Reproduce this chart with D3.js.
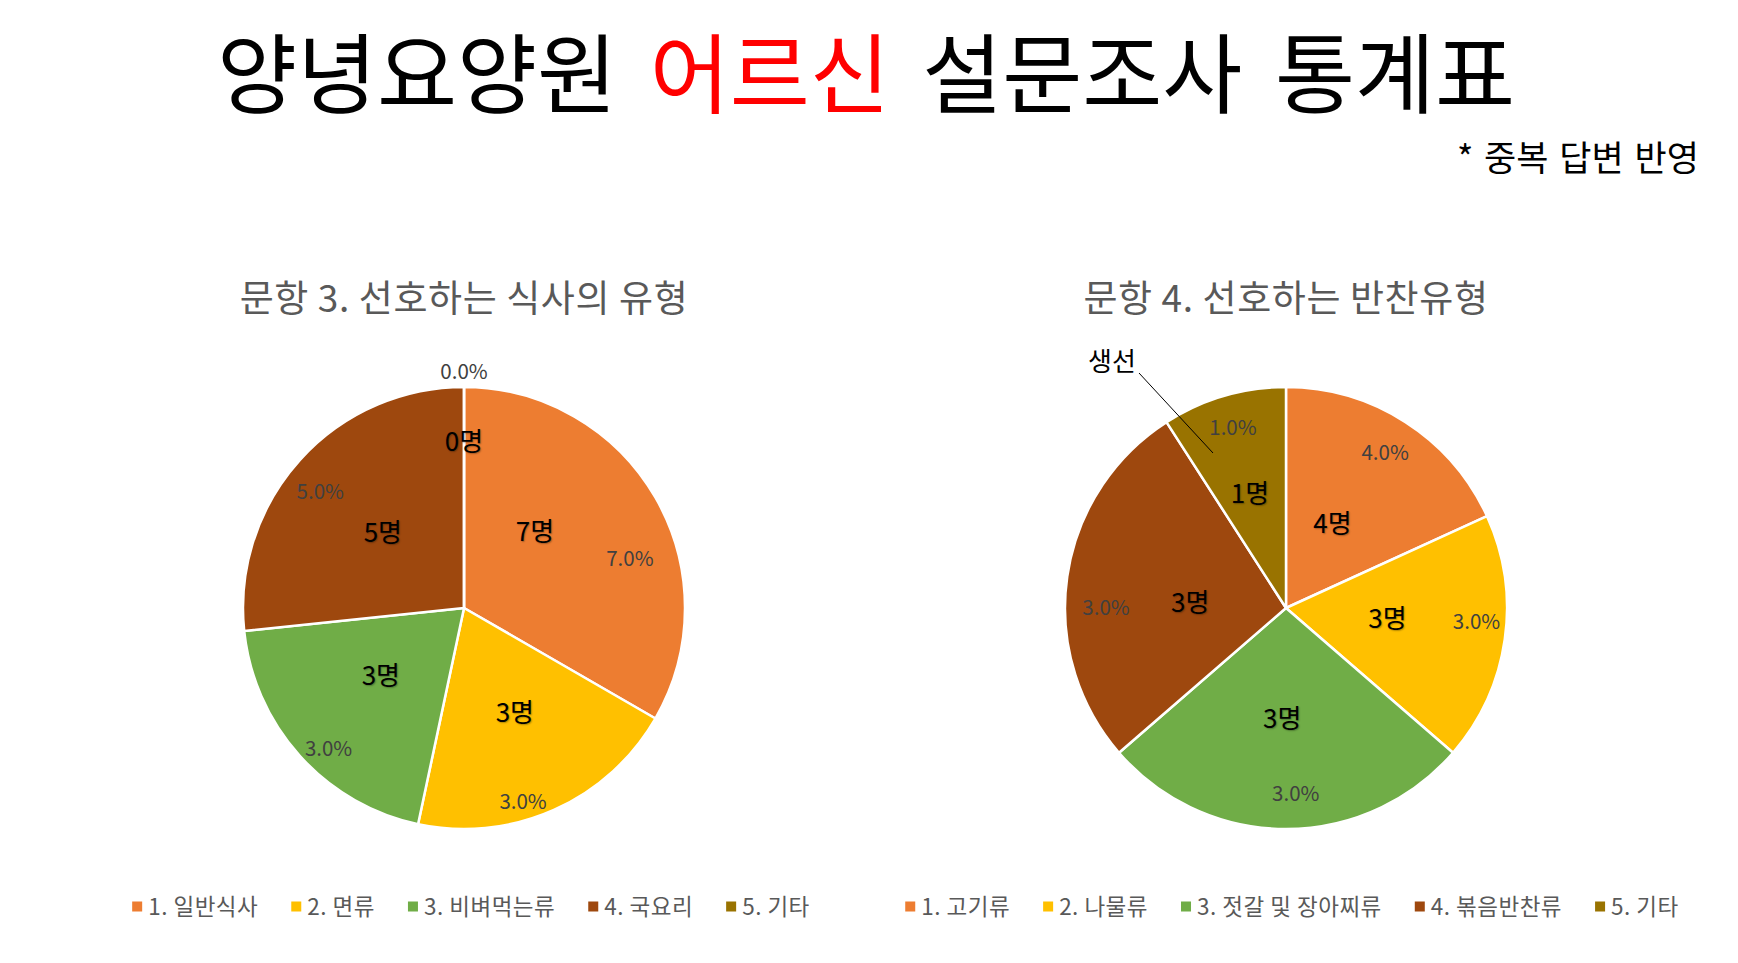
<!DOCTYPE html>
<html><head><meta charset="utf-8">
<script src="https://cdn.jsdelivr.net/npm/d3@7"></script>
<style>
html,body{margin:0;padding:0;background:#fff;}
svg{display:block;font-family:"Noto Sans CJK KR","Noto Sans",sans-serif;}
.cnt{text-shadow:1px 1px 1.5px rgba(0,0,0,0.3);}
</style></head>
<body>
<svg id="c" width="1738" height="963"></svg>
<script>
// ---- data ----
const titleParts = [["양녕요양원 ", "#000"], ["어르신", "#ff0000"], [" 설문조사 통계표", "#000"]];
const noteText = "* 중복 답변 반영";

const chart1Title = "문항 3. 선호하는 식사의 유형";
const chart1Categories = ["1. 일반식사", "2. 면류", "3. 비벼먹는류", "4. 국요리", "5. 기타"];
const chart1Slices = [5, 3, 3, 4, 0];          // slice sizes as drawn
const chart1Counts = ["7명", "3명", "3명", "5명", "0명"];
const chart1Percents = ["7.0%", "3.0%", "3.0%", "5.0%", "0.0%"];

const chart2Title = "문항 4. 선호하는 반찬유형";
const chart2Categories = ["1. 고기류", "2. 나물류", "3. 젓갈 및 장아찌류", "4. 볶음반찬류", "5. 기타"];
const chart2Slices = [2, 2, 3, 3, 1];
const chart2Counts = ["4명", "3명", "3명", "3명", "1명"];
const chart2Percents = ["4.0%", "3.0%", "3.0%", "3.0%", "1.0%"];
const chart2Callout = "생선";

const colors = ["#ED7D31", "#FFC000", "#70AD47", "#9E480E", "#997300"];

// ---- layout ----
const W = 1738, H = 963;
const svg = d3.select("#c");
const R = 221;

// title
const t = svg.append("text").attr("x", W / 2 - 3).attr("y", 107).attr("text-anchor", "middle")
  .attr("font-size", 87).attr("word-spacing", "13px");
titleParts.forEach(p => t.append("tspan").attr("fill", p[1]).text(p[0]));

svg.append("text").attr("x", 1699).attr("y", 171).attr("text-anchor", "end")
  .attr("font-size", 35).attr("word-spacing", "3px").attr("fill", "#000").text(noteText);

// label layout (degrees from 12 o'clock, px radius)
const layout1 = {
  pct: {0: [73.5, 173], 1: [163, 202], 2: [224, 195], 3: [309, 185], 4: [0, 236]},
  cnt: {0: [43, 104], 1: [154, 116], 2: [231, 107], 3: [313, 111], 4: [0, 166]}
};
const layout2 = {
  pct: {0: [32.6, 184], 1: [94, 191], 2: [177, 186], 3: [270, 180], 4: [343.6, 188]},
  cnt: {0: [29, 96], 1: [96, 102], 2: [182, 111], 3: [273, 96], 4: [342.5, 120]}
};

function drawPie(cx, cy, title, cats, slices, counts, pcts, lay, legendShift) {
  const g = svg.append("g").attr("transform", `translate(${cx},${cy})`);
  svg.append("text").attr("x", cx).attr("y", 312).attr("text-anchor", "middle")
    .attr("font-size", 37).attr("letter-spacing", "0.6px").attr("fill", "#595959").text(title);

  const pie = d3.pie().sort(null).value(d => d)(slices);
  const arc = d3.arc().innerRadius(0).outerRadius(R);
  g.selectAll("path.s").data(pie).join("path").attr("class", "s")
    .attr("d", arc).attr("fill", (d, i) => colors[i])
    .attr("stroke", "#fff").attr("stroke-width", 2.5).attr("stroke-linejoin", "round");

  const pos = (deg, r) => {
    const a = deg * Math.PI / 180;
    return [Math.sin(a) * r, -Math.cos(a) * r];
  };
  const mid = d => ((d.startAngle + d.endAngle) / 2) * 180 / Math.PI;

  pie.forEach((d, i) => {
    const pp = lay.pct[i] || [mid(d), 0.87 * R];
    const [px, py] = pos(pp[0], pp[1]);
    g.append("text").attr("x", px).attr("y", py).attr("dy", "0.36em")
      .attr("text-anchor", "middle").attr("font-size", 20.5).attr("fill", "#404040").text(pcts[i]);
    const cp = lay.cnt[i] || [mid(d), 0.5 * R];
    const [qx, qy] = pos(cp[0], cp[1]);
    g.append("text").attr("class", "cnt").attr("x", qx).attr("y", qy).attr("dy", "0.36em")
      .attr("text-anchor", "middle").attr("font-size", 26).attr("fill", "#000").text(counts[i]);
  });

  // legend
  const lg = svg.append("g");
  const gap = 33;
  let x = 0;
  cats.forEach((c, i) => {
    const it = lg.append("g");
    it.append("rect").attr("x", 0).attr("y", -5).attr("width", 10).attr("height", 10).attr("fill", colors[i]);
    const tx = it.append("text").attr("x", 16).attr("y", 0).attr("dy", "0.36em")
      .attr("font-size", 22.5).attr("letter-spacing", "0.5px").attr("fill", "#595959").text(c);
    const w = 16 + tx.node().getComputedTextLength();
    it.attr("transform", `translate(${x},0)`);
    x += w + gap;
  });
  const total = x - gap;
  lg.attr("transform", `translate(${cx + legendShift - total / 2},906.5)`);
  return g;
}

drawPie(464, 608, chart1Title, chart1Categories, chart1Slices, chart1Counts, chart1Percents, layout1, 7);
const g2 = drawPie(1286, 608, chart2Title, chart2Categories, chart2Slices, chart2Counts, chart2Percents, layout2, 6);

// callout for 기타 slice in chart 2
g2.append("text").attr("x", 1112 - 1286).attr("y", 362 - 608).attr("dy", "0.36em")
  .attr("text-anchor", "middle").attr("font-size", 26).attr("fill", "#000").text(chart2Callout);
g2.append("line").attr("x1", 1139 - 1286).attr("y1", 373 - 608).attr("x2", 1213 - 1286).attr("y2", 453 - 608)
  .attr("stroke", "#000").attr("stroke-width", 1);
</script>
</body></html>
